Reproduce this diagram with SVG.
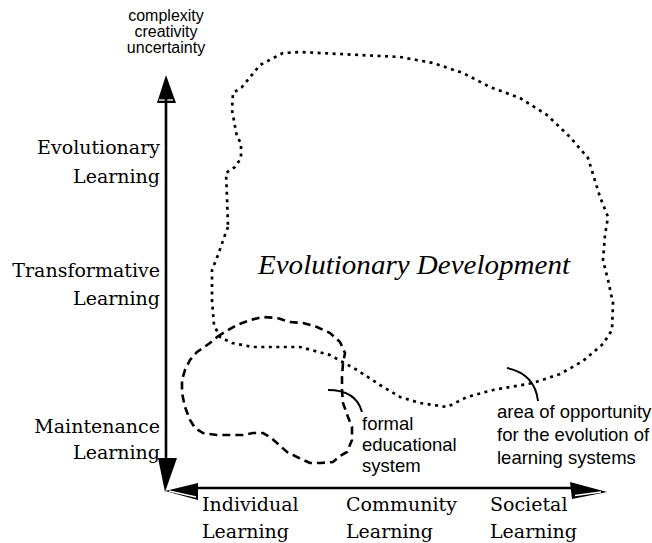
<svg xmlns="http://www.w3.org/2000/svg" width="652" height="543" viewBox="0 0 652 543">
  <style>
    .serif { font-family: "DejaVu Serif", "Liberation Serif", serif; font-size: 19px; fill: #000; }
    .sans { font-family: "Liberation Sans", Arial, sans-serif; fill: #000; }
    .note { font-size: 18.5px; }
    .top { font-size: 16px; }
    .axis { stroke: #000; stroke-width: 2.6; fill: none; }
    .head { fill: #000; stroke: none; }
    .inner { stroke: #fff; stroke-width: 1.3; fill: none; }
    .dotted { fill: none; stroke: #000; stroke-width: 2.7; stroke-dasharray: 3 4.5; }
    .dashed { fill: none; stroke: #000; stroke-width: 2.6; stroke-dasharray: 8 5; }
    .pointer { fill: none; stroke: #000; stroke-width: 2; }
  </style>
  <rect width="652" height="543" fill="#fff"/>

  <!-- evolutionary development region -->
  <g id="evolutionary-development">
    <path class="dotted" d="M228,227 L225,235 L218,255 L212,270 L212,300 L214,325 L220,337 L232,343 L253,347 L300,347 L330,355 L357,370 L380,385 L400,397 L420,403 L447,407 L467,397 L493,390 L533,383 L560,374 L583,361 L603,344 L612,330 L613,303 L608,280 L603,260 L605,235 L608,217 L600,197 L588,158 L570,137 L547,115 L520,98 L490,87 L463,73 L433,63 L400,57 L340,54 L300,52 L283,53 L260,65 L242,87 L233,93 L232,110 L237,137 L241,143 L241,158 L235,167 L226,173 L227,197 Z"/>
    <text x="414" y="274" text-anchor="middle" font-family="'Liberation Serif', 'Times New Roman', serif" font-style="italic" font-size="28" textLength="312" lengthAdjust="spacingAndGlyphs">Evolutionary Development</text>
  </g>

  <!-- formal educational system region -->
  <g id="formal-education">
    <path class="dashed" d="M217,337 L228,330 L237,325 L250,320 L263,317 L277,318 L290,322 L303,323 L317,327 L330,333 L340,342 L345,353 L343,363 L342,377 L342,390 L343,403 L348,417 L352,427 L352,440 L347,452 L340,456 L333,462 L320,463 L310,463 L297,457 L287,452 L277,443 L270,437 L263,433 L253,433 L243,435 L230,435 L217,435 L203,433 L195,428 L190,420 L185,407 L182,393 L182,380 L185,370 L190,360 L197,352 L203,348 L210,343 Z"/>
  </g>

  <!-- callout labels -->
  <g id="formal-label">
    <path class="pointer" d="M328,390 Q356,390 362,412"/>
    <text class="sans note" x="362" y="430">formal</text>
    <text class="sans note" x="362" y="451">educational</text>
    <text class="sans note" x="362" y="472">system</text>
  </g>
  <g id="opportunity-label">
    <path class="pointer" d="M507,368 Q535,374 538,401"/>
    <text class="sans note" x="497" y="418">area of opportunity</text>
    <text class="sans note" x="497" y="441">for the evolution of</text>
    <text class="sans note" x="497" y="464">learning systems</text>
  </g>

  <!-- vertical axis labels -->
  <g id="y-labels">
    <text class="sans top" x="166" y="21" text-anchor="middle">complexity</text>
    <text class="sans top" x="166" y="37" text-anchor="middle">creativity</text>
    <text class="sans top" x="166" y="53" text-anchor="middle">uncertainty</text>
    <text class="serif" x="160" y="154" text-anchor="end">Evolutionary</text>
    <text class="serif" x="160" y="183" text-anchor="end">Learning</text>
    <text class="serif" x="160" y="277" text-anchor="end">Transformative</text>
    <text class="serif" x="160" y="305" text-anchor="end">Learning</text>
    <text class="serif" x="160" y="433" text-anchor="end">Maintenance</text>
    <text class="serif" x="160" y="459" text-anchor="end">Learning</text>
  </g>

  <!-- horizontal axis labels -->
  <g id="x-labels">
    <text class="serif" x="202" y="511">Individual</text>
    <text class="serif" x="202" y="538">Learning</text>
    <text class="serif" x="346" y="511">Community</text>
    <text class="serif" x="346" y="538">Learning</text>
    <text class="serif" x="490" y="511">Societal</text>
    <text class="serif" x="490" y="538">Learning</text>
  </g>

  <!-- axes -->
  <g id="connectors">
    <!-- vertical axis with arrowheads at both ends -->
    <polygon class="head" points="166,75 157,103 176,103"/>
    <line class="inner" x1="159" y1="100" x2="173" y2="100"/>
    <line class="axis" x1="166" y1="99" x2="166" y2="460"/>
    <polygon class="head" points="158,458 177,458 165,492"/>
    <!-- horizontal axis with arrowheads at both ends -->
    <line class="axis" x1="196" y1="488" x2="572" y2="488"/>
    <polygon class="head" points="165,491 198,483 198,500"/>
    <line class="inner" x1="169" y1="491" x2="196" y2="497"/>
    <polygon class="head" points="570,482 607,492 572,499"/>
    <line class="inner" x1="575" y1="495.5" x2="601" y2="492"/>
  </g>
</svg>
